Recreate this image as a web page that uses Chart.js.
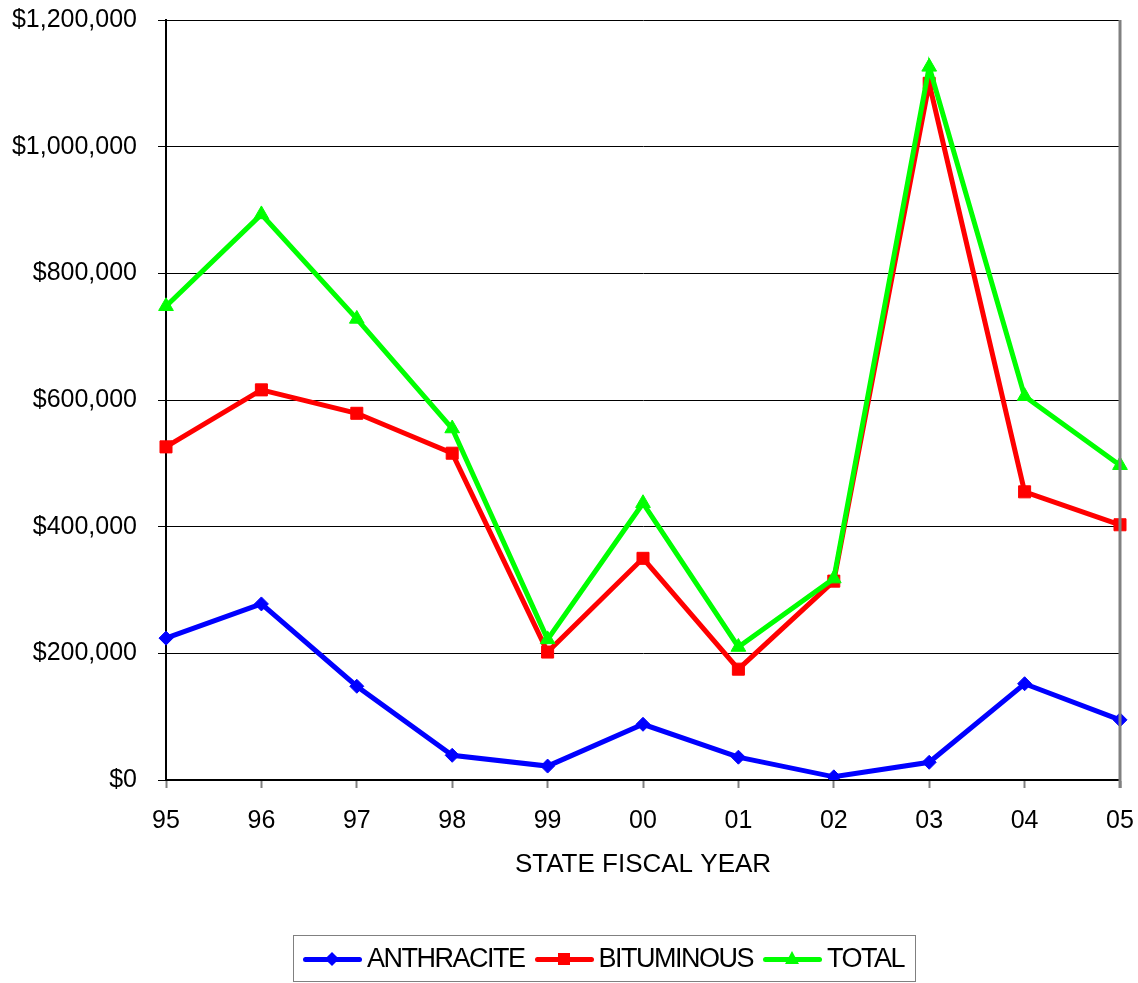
<!DOCTYPE html>
<html>
<head>
<meta charset="utf-8">
<script src="https://cdn.jsdelivr.net/npm/chart.js@4/dist/chart.umd.min.js"></script>
<style>
    body { margin: 0; background: #fff; font-family: "Liberation Sans", Arial, sans-serif; }
    #wrap { position: relative; width: 1138px; height: 983px; }
    #chart { position: absolute; left: 0; top: 0; }
    #legend {
        position: absolute; left: 293px; top: 935px; width: 621px; height: 45px;
        border: 1px solid #808080;
        display: flex; align-items: center; font-size: 27px; letter-spacing: -1.5px; color: #000;
    }
    .item { display: flex; align-items: center; margin-left: 9px; }
    .item + .item { margin-left: 10px; }
    .sym { position: relative; width: 59px; height: 20px; margin-right: 5px; }
    .sym .ln { position: absolute; left: 0; top: 8px; width: 59px; height: 5px; border-radius: 3px; }
    .sym .mk { position: absolute; }
</style>
</head>
<body>
<div id="wrap">
    <canvas id="chart" width="1138" height="983"></canvas>
    <div id="legend"></div>
</div>
<script>
document.addEventListener('DOMContentLoaded', () => {

    const years = ['95', '96', '97', '98', '99', '00', '01', '02', '03', '04', '05'];
    const anthracite = [224000, 278000, 148000, 39000, 22000, 88000, 36000, 5000, 28000, 152000, 95000];
    const bituminous = [526000, 616000, 579000, 516000, 202000, 350000, 175000, 314000, 1100000, 455000, 403000];
    const total = [748000, 893000, 728000, 555000, 222000, 437000, 210000, 318000, 1126000, 606000, 497000];
    const yTicks = [0, 200000, 400000, 600000, 800000, 1000000, 1200000];

    const font = { family: '"Liberation Sans", Arial, sans-serif', size: 25 };

    // gray frame line on the right side of the plot
    const rightBorder = {
        id: 'rightBorder',
        afterDatasetsDraw(chart) {
            const { ctx, chartArea } = chart;
            ctx.save();
            ctx.strokeStyle = '#808080';
            ctx.lineWidth = 3;
            ctx.beginPath();
            ctx.moveTo(chartArea.right, chartArea.top);
            ctx.lineTo(chartArea.right, chartArea.bottom + 8);
            ctx.stroke();
            ctx.restore();
        }
    };

    const series = [
        { label: 'ANTHRACITE', data: anthracite, color: '#0000ff', style: 'rectRot', radius: 7, order: 3 },
        { label: 'BITUMINOUS', data: bituminous, color: '#ff0000', style: 'rect', radius: 8.5, order: 2 },
        { label: 'TOTAL', data: total, color: '#00ff00', style: 'triangle', radius: 8.5, order: 1 }
    ];

    const ctx = document.getElementById('chart').getContext('2d');
    new Chart(ctx, {
        type: 'line',
        data: {
            labels: years,
            datasets: series.map(s => ({
                label: s.label,
                data: s.data,
                borderColor: s.color,
                backgroundColor: s.color,
                borderWidth: 5,
                pointStyle: s.style,
                pointRadius: s.radius,
                pointBorderWidth: 1,
                pointBackgroundColor: s.color,
                pointBorderColor: s.color,
                tension: 0,
                order: s.order
            }))
        },
        options: {
            responsive: false,
            animation: false,
            layout: { padding: { left: 0, right: 18, top: 20, bottom: 83 } },
            plugins: {
                legend: { display: false },
                tooltip: { enabled: false }
            },
            scales: {
                x: {
                    offset: false,
                    grid: {
                        drawOnChartArea: false,
                        tickLength: 8,
                        tickColor: '#808080',
                        tickWidth: 2
                    },
                    border: { color: '#000', width: 2 },
                    ticks: { color: '#000', font: font, padding: 18, maxRotation: 0 },
                    title: {
                        display: true,
                        text: 'STATE FISCAL YEAR',
                        color: '#000',
                        font: { family: font.family, size: 26 },
                        padding: { top: 10, bottom: 20 }
                    },
                    afterFit(scale) {
                        scale.height = 120;
                        scale.paddingLeft = 0;
                        scale.paddingRight = 0;
                    }
                },
                y: {
                    min: 0,
                    max: 1200000,
                    afterBuildTicks(scale) { scale.ticks = yTicks.map(v => ({ value: v })); },
                    grid: { color: '#000', lineWidth: 1, tickLength: 8, tickColor: '#000' },
                    border: { color: '#000', width: 2 },
                    ticks: {
                        color: '#000',
                        font: font,
                        padding: 21,
                        callback: v => '$' + Number(v).toLocaleString('en-US')
                    },
                    afterFit(scale) {
                        scale.width = 166;
                        scale.paddingTop = 0;
                        scale.paddingBottom = 0;
                    }
                }
            }
        },
        plugins: [rightBorder]
    });

    // html legend with line + marker like the original
    const legend = document.getElementById('legend');
    series.forEach(s => {
        const item = document.createElement('div');
        item.className = 'item';
        let mk = '';
        if (s.style === 'rectRot') {
            mk = `<span class="mk" style="left:24px;top:5px;width:10px;height:10px;background:${s.color};transform:rotate(45deg)"></span>`;
        } else if (s.style === 'rect') {
            mk = `<span class="mk" style="left:23px;top:4px;width:12px;height:12px;background:${s.color}"></span>`;
        } else {
            mk = `<span class="mk" style="left:22px;top:2px;width:0;height:0;border-left:7px solid transparent;border-right:7px solid transparent;border-bottom:13px solid ${s.color}"></span>`;
        }
        item.innerHTML = `<span class="sym"><span class="ln" style="background:${s.color}"></span>${mk}</span><span>${s.label}</span>`;
        legend.appendChild(item);
    });
});
</script>
</body>
</html>
